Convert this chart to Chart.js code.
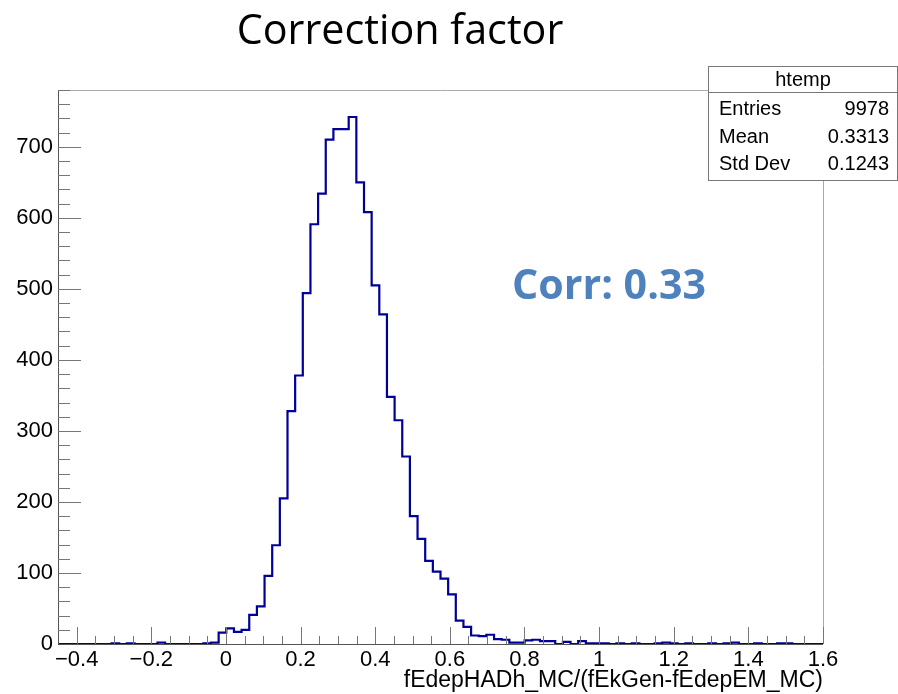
<!DOCTYPE html>
<html>
<head>
<meta charset="utf-8">
<script src="https://cdn.jsdelivr.net/npm/chart.js@4.4.0/dist/chart.umd.js"></script>
<style>
  html, body { margin: 0; padding: 0; background: #ffffff; }
  #wrap { width: 898px; height: 694px; }
</style>
</head>
<body>
<div id="wrap"><canvas id="histChart" width="898" height="694"></canvas></div>
<script>
(function() {
    'use strict';

    // Histogram binning (ROOT htemp: 100 bins)
    const xMin = -0.45;
    const xMax = 1.6;
    const binCount = 100;

    // Bin contents, low edge first
    const counts = [
        0, 0, 0, 0, 0, 0, 0, 1, 0, 1,
        0, 0, 0, 2, 0, 0, 0, 0, 0, 1,
        2, 16, 22, 17, 20, 41, 53, 96, 139, 205,
        328, 378, 494, 591, 634, 710, 725, 725, 742, 650,
        608, 505, 464, 348, 315, 264, 180, 148, 117, 102,
        92, 70, 33, 24, 12, 11, 13, 7, 6, 2,
        2, 5, 6, 4, 4, 0, 3, 0, 4, 1,
        1, 1, 0, 1, 0, 1, 0, 0, 1, 2,
        1, 0, 1, 0, 0, 1, 0, 1, 2, 0,
        0, 1, 0, 0, 1, 1, 0, 0, 0, 0
    ];

    // Axis ticks and labels
    const xTicks = [-0.4, -0.2, 0, 0.2, 0.4, 0.6, 0.8, 1, 1.2, 1.4, 1.6];
    const xTickLabels = ['\u22120.4', '\u22120.2', '0', '0.2', '0.4', '0.6', '0.8', '1', '1.2', '1.4', '1.6'];
    const yTicks = [0, 100, 200, 300, 400, 500, 600, 700];
    const yTickLabels = ['0', '100', '200', '300', '400', '500', '600', '700'];
    const yMax = 780;

    // Texts
    const titleText = 'Correction factor';
    const corrText = 'Corr: 0.33';
    const xTitle = 'fEdepHADh_MC/(fEkGen-fEdepEM_MC)';
    const statsName = 'htemp';
    const statsLabels = ['Entries', 'Mean', 'Std Dev'];
    const statsValues = ['9978', '0.3313', '0.1243'];

    const rootFont = '"Liberation Sans", Arial, sans-serif';

    // Build step points: one per bin low edge, plus the upper edge
    const binWidth = (xMax - xMin) / binCount;
    const points = counts.map((c, i) => ({ x: xMin + i * binWidth, y: c }));
    points.push({ x: xMax, y: counts[counts.length - 1] });

    function fitFont(ctx, text, weight, family, base, width) {
        ctx.font = weight + ' ' + base + 'px ' + family;
        const w = ctx.measureText(text).width;
        return weight + ' ' + (base * width / w).toFixed(1) + 'px ' + family;
    }

    // Ticks pointing inward, frame, title, stats box and annotation
    const rootDecor = {
        id: 'rootDecor',
        afterDraw(chart) {
            const ctx = chart.ctx;
            const area = chart.chartArea;
            const xs = chart.scales.x;
            const ys = chart.scales.y;

            ctx.save();
            // frame
            ctx.strokeStyle = '#aaaaaa';
            ctx.lineWidth = 1;
            ctx.beginPath();
            ctx.moveTo(area.left, area.top + 0.5);
            ctx.lineTo(area.right + 0.5, area.top + 0.5);
            ctx.lineTo(area.right + 0.5, area.bottom);
            ctx.stroke();

            ctx.strokeStyle = '#555555';
            ctx.beginPath();
            ctx.moveTo(area.left + 0.5, area.top);
            ctx.lineTo(area.left + 0.5, area.bottom + 0.5);
            ctx.lineTo(area.right, area.bottom + 0.5);
            ctx.stroke();

            // x ticks: major each 0.2, minor each 0.05
            ctx.strokeStyle = '#777777';
            ctx.beginPath();
            for (let k = Math.ceil(xMin / 0.05); k * 0.05 <= xMax + 1e-9; k++) {
                const v = k * 0.05;
                if (v <= xMin + 1e-9) continue;
                const px = Math.round(xs.getPixelForValue(v)) + 0.5;
                const len = (k % 4 === 0) ? 17 : 8;
                ctx.moveTo(px, area.bottom);
                ctx.lineTo(px, area.bottom - len);
            }
            // y ticks: major each 100, minor each 20
            for (let v = 20; v <= yMax; v += 20) {
                const py = Math.round(ys.getPixelForValue(v)) + 0.5;
                const len = (v % 100 === 0) ? 23 : 12;
                ctx.moveTo(area.left, py);
                ctx.lineTo(area.left + len, py);
            }
            ctx.stroke();

            // title
            ctx.fillStyle = '#000000';
            ctx.textAlign = 'center';
            ctx.textBaseline = 'alphabetic';
            ctx.font = fitFont(ctx, titleText, 'normal', '"Open Sans", Lato, sans-serif', 40, 327);
            ctx.fillText(titleText, 400, 44);

            // annotation
            ctx.fillStyle = '#4f81bd';
            ctx.textAlign = 'left';
            ctx.font = fitFont(ctx, corrText, 'bold', '"Open Sans", Lato, sans-serif', 40, 194);
            ctx.fillText(corrText, 512, 299);

            // stats box
            const bx = 708.5, by = 66.5, bw = 189, bh = 114;
            ctx.fillStyle = '#ffffff';
            ctx.fillRect(bx, by, bw, bh);
            ctx.strokeStyle = '#777777';
            ctx.strokeRect(bx, by, bw, bh);
            ctx.beginPath();
            ctx.moveTo(bx, 92.5);
            ctx.lineTo(bx + bw, 92.5);
            ctx.stroke();

            ctx.fillStyle = '#000000';
            ctx.font = '20px ' + rootFont;
            ctx.textBaseline = 'middle';
            ctx.textAlign = 'center';
            ctx.fillText(statsName, bx + bw / 2, 80);
            const rowY = [109, 137, 164];
            statsLabels.forEach((lab, i) => {
                ctx.textAlign = 'left';
                ctx.fillText(lab, 719, rowY[i]);
                ctx.textAlign = 'right';
                ctx.fillText(statsValues[i], 889, rowY[i]);
            });
            ctx.restore();
        }
    };

    const ctx = document.getElementById('histChart').getContext('2d');
    new Chart(ctx, {
        type: 'line',
        data: {
            datasets: [{
                data: points,
                stepped: 'before',
                borderColor: '#000099',
                borderWidth: 2.2,
                pointRadius: 0,
                fill: false,
                clip: 3
            }]
        },
        options: {
            responsive: false,
            animation: false,
            events: [],
            layout: { padding: { left: 0, right: 75, top: 90, bottom: 0 } },
            plugins: {
                legend: { display: false },
                tooltip: { enabled: false },
                title: { display: false }
            },
            scales: {
                x: {
                    type: 'linear',
                    min: xMin,
                    max: xMax,
                    afterBuildTicks(scale) {
                        scale.ticks = xTicks.map(v => ({ value: v }));
                    },
                    afterFit(scale) { scale.height = 50; },
                    grid: { display: true, drawOnChartArea: false, drawTicks: false },
                    border: { display: false },
                    ticks: {
                        autoSkip: false,
                        maxRotation: 0,
                        padding: 3,
                        color: '#000000',
                        font: { family: rootFont, size: 22 },
                        callback: (v, i) => xTickLabels[i]
                    },
                    title: {
                        display: true,
                        text: xTitle,
                        align: 'end',
                        color: '#000000',
                        font: { family: rootFont, size: 23 },
                        padding: { top: 0, bottom: 0 }
                    }
                },
                y: {
                    type: 'linear',
                    min: 0,
                    max: yMax,
                    afterBuildTicks(scale) {
                        scale.ticks = yTicks.map(v => ({ value: v }));
                    },
                    afterFit(scale) { scale.width = 58; },
                    grid: { display: true, drawOnChartArea: false, drawTicks: false },
                    border: { display: false },
                    ticks: {
                        autoSkip: false,
                        padding: 5,
                        color: '#000000',
                        font: { family: rootFont, size: 22 },
                        callback: (v, i) => yTickLabels[i]
                    }
                }
            }
        },
        plugins: [rootDecor]
    });
})();
</script>
</body>
</html>
